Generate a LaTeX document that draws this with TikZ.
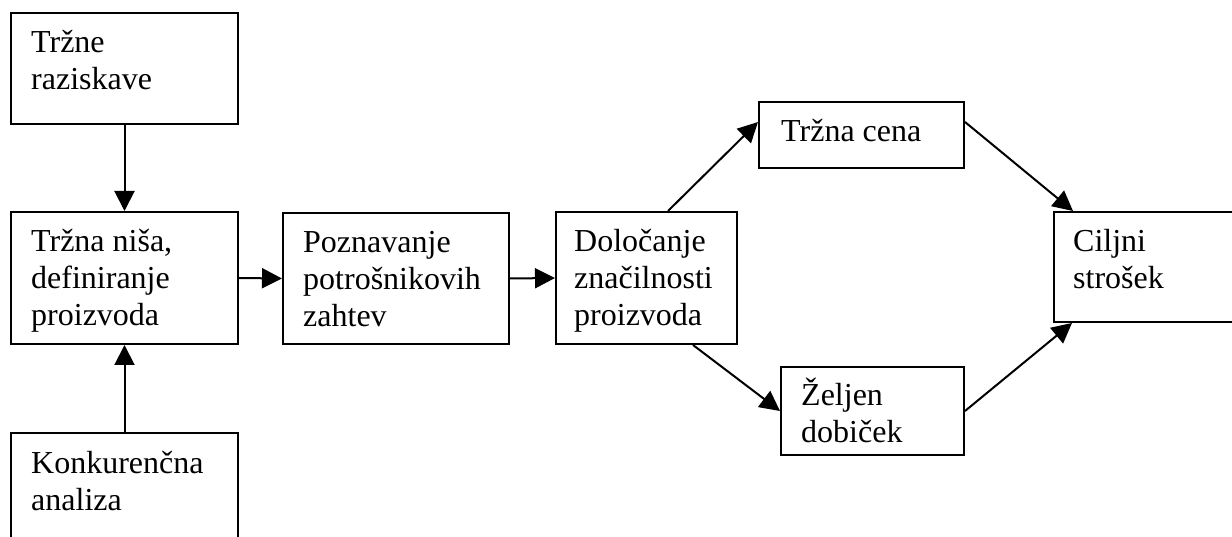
\documentclass[tikz,border=0pt]{standalone}
\usepackage{fontspec}
\setmainfont{Liberation Serif}
\usetikzlibrary{arrows.meta,calc}
\tikzset{
  box/.style={draw=black, line width=2pt, rectangle, inner sep=0pt, anchor=north west},
  txt/.style={inner sep=0pt, align=left, anchor=base west, font=\fontsize{32}{37}\selectfont},
  arr/.style={line width=2pt, -{Triangle[length=20pt,width=20pt]}}
}
\begin{document}
\begin{tikzpicture}[x=1pt,y=-1pt]
\clip (0,0) rectangle (1232,537);
\fill[white] (0,0) rectangle (1232,537);
% boxes
\node[box, minimum width=227pt, minimum height=111pt] (b1) at (10,12) {};
\node[box, minimum width=227pt, minimum height=132pt] (b2) at (10,211) {};
\node[box, minimum width=227pt, minimum height=140pt] (b3) at (10,432) {};
\node[box, minimum width=226pt, minimum height=131pt] (b4) at (282,212) {};
\node[box, minimum width=181pt, minimum height=132pt] (b5) at (555,211) {};
\node[box, minimum width=205pt, minimum height=66pt] (b6) at (758,101) {};
\node[box, minimum width=183pt, minimum height=88pt] (b7) at (780,366) {};
\node[box, minimum width=220pt, minimum height=110pt] (b8) at (1053,211) {};
% texts (anchor = baseline of the last line)
\node[txt] (t1) at ($(b1.north west)+(21,78)$) {Tržne\\raziskave};
\node[txt] (t2) at ($(b2.north west)+(21,115)$) {Tržna niša,\\definiranje\\proizvoda};
\node[txt] (t3) at ($(b3.north west)+(21,78)$) {Konkurenčna\\analiza};
\node[txt] (t4) at ($(b4.north west)+(21,115)$) {Poznavanje\\potrošnikovih\\zahtev};
\node[txt] (t5) at ($(b5.north west)+(19,115)$) {Določanje\\značilnosti\\proizvoda};
\node[txt] (t6) at ($(b6.north west)+(23,41)$) {Tržna cena};
\node[txt] (t7) at ($(b7.north west)+(21,76)$) {Željen\\dobiček};
\node[txt] (t8) at ($(b8.north west)+(20,78)$) {Ciljni\\strošek};
% connectors
\draw[arr] (b1.south) -- (b2.north);
\draw[arr] (b3.north) -- (b2.south);
\draw[arr] (b2.east) -- (b4.west);
\draw[arr] (b4.east) -- (b5.west);
\coordinate (p5n) at ($(b5.north west)+(113,0)$);
\coordinate (p6w) at ($(b6.north west)+(0,21)$);
\coordinate (p6e) at ($(b6.north east)+(0,21)$);
\coordinate (p8n) at ($(b8.north west)+(20,0)$);
\coordinate (p5s) at ($(b5.south west)+(138,0)$);
\coordinate (p8s) at ($(b8.south west)+(19,0)$);
\draw[arr] (p5n) -- (p6w);
\draw[arr] (p6e) -- (p8n);
\draw[arr] (p5s) -- (b7.west);
\draw[arr] (b7.east) -- (p8s);
\end{tikzpicture}
\end{document}
